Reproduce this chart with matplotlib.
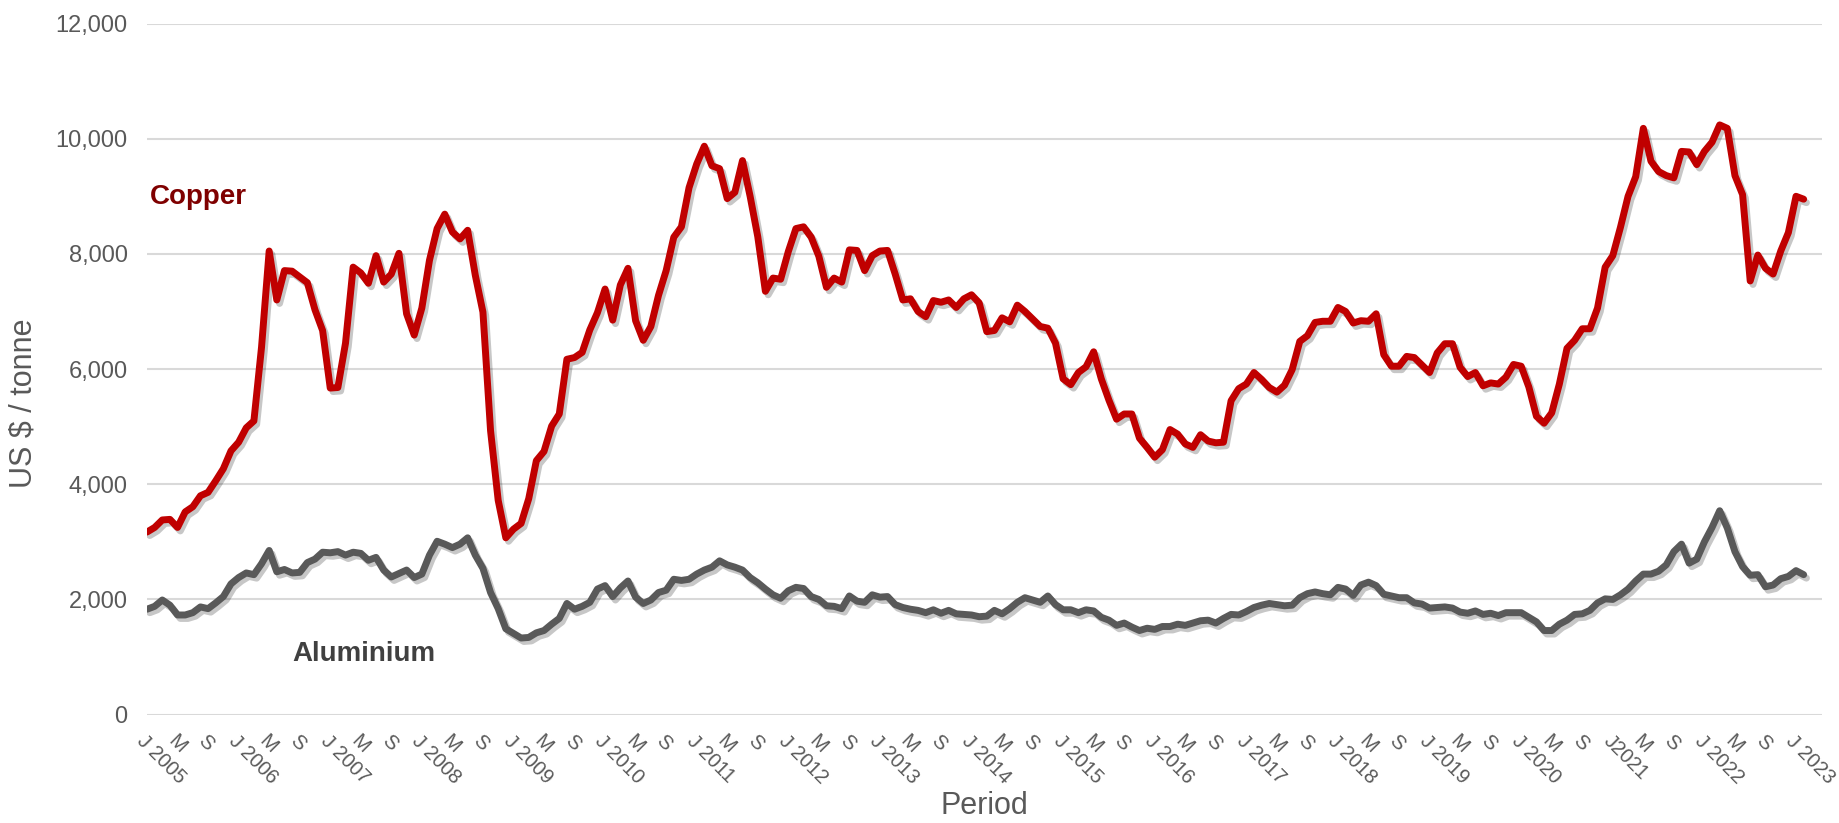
import matplotlib
matplotlib.use("Agg")
import matplotlib.pyplot as plt
import matplotlib.patheffects as pe
import numpy as np

plt.rcParams['font.family'] = ['Liberation Sans', 'DejaVu Sans']

# Monthly prices, Jan 2005 .. Feb 2023 (US$/tonne)
copper = [
    3170, 3250, 3380, 3390, 3250, 3520, 3610, 3800, 3860, 4060, 4270, 4580,   # 2005
    4730, 4980, 5100, 6380, 8050, 7200, 7710, 7700, 7600, 7500, 7030, 6670,   # 2006
    5670, 5680, 6450, 7770, 7670, 7490, 7970, 7510, 7650, 8010, 6960, 6590,   # 2007
    7060, 7890, 8440, 8690, 8380, 8260, 8410, 7630, 6990, 4930, 3720, 3070,   # 2008
    3220, 3320, 3750, 4410, 4570, 5010, 5220, 6170, 6200, 6290, 6680, 6980,   # 2009
    7390, 6850, 7460, 7750, 6840, 6500, 6740, 7280, 7710, 8290, 8470, 9150,   # 2010
    9560, 9870, 9530, 9480, 8960, 9070, 9620, 9000, 8300, 7350, 7580, 7560,   # 2011
    8040, 8440, 8470, 8290, 7960, 7420, 7580, 7510, 8070, 8060, 7710, 7970,   # 2012
    8050, 8060, 7650, 7200, 7220, 7000, 6910, 7190, 7160, 7200, 7070, 7220,   # 2013
    7290, 7150, 6650, 6670, 6890, 6820, 7110, 7000, 6870, 6740, 6710, 6450,   # 2014
    5830, 5730, 5940, 6040, 6300, 5830, 5460, 5130, 5220, 5220, 4800, 4640,   # 2015
    4470, 4600, 4950, 4870, 4700, 4640, 4860, 4750, 4720, 4730, 5450, 5660,   # 2016
    5740, 5940, 5820, 5680, 5600, 5720, 5990, 6480, 6580, 6810, 6830, 6830,   # 2017
    7070, 7000, 6800, 6840, 6830, 6960, 6250, 6050, 6050, 6220, 6200, 6070,   # 2018
    5940, 6280, 6440, 6440, 6030, 5870, 5940, 5710, 5760, 5740, 5860, 6080,   # 2019
    6050, 5690, 5180, 5060, 5240, 5740, 6360, 6500, 6700, 6700, 7060, 7770,   # 2020
    7970, 8460, 9000, 9340, 10180, 9610, 9430, 9360, 9320, 9780, 9770, 9550,  # 2021
    9780, 9940, 10240, 10180, 9360, 9030, 7530, 7980, 7750, 7650, 8050, 8370, # 2022
    9000, 8950,                                                               # 2023
]

aluminium = [
    1830, 1880, 1990, 1900, 1730, 1730, 1770, 1870, 1840, 1940, 2050, 2270,   # 2005
    2380, 2460, 2430, 2620, 2850, 2480, 2520, 2460, 2470, 2640, 2700, 2820,   # 2006
    2810, 2830, 2770, 2820, 2800, 2680, 2730, 2510, 2390, 2450, 2510, 2380,   # 2007
    2440, 2770, 3010, 2960, 2900, 2960, 3070, 2770, 2540, 2120, 1840, 1490,   # 2008
    1410, 1330, 1340, 1420, 1460, 1570, 1670, 1930, 1830, 1880, 1950, 2180,   # 2009
    2240, 2050, 2200, 2320, 2040, 1930, 1990, 2120, 2160, 2350, 2330, 2350,   # 2010
    2440, 2510, 2560, 2670, 2600, 2560, 2510, 2380, 2290, 2180, 2080, 2020,   # 2011
    2150, 2210, 2190, 2050, 2000, 1890, 1880, 1840, 2060, 1970, 1950, 2080,   # 2012
    2040, 2050, 1910, 1860, 1830, 1810, 1770, 1820, 1760, 1810, 1750, 1740,   # 2013
    1730, 1700, 1710, 1810, 1750, 1840, 1950, 2030, 1990, 1950, 2060, 1910,   # 2014
    1820, 1820, 1770, 1820, 1800, 1690, 1640, 1550, 1590, 1520, 1460, 1500,   # 2015
    1480, 1530, 1530, 1570, 1550, 1590, 1630, 1640, 1590, 1670, 1740, 1730,   # 2016
    1790, 1860, 1900, 1930, 1910, 1890, 1900, 2030, 2100, 2130, 2100, 2080,   # 2017
    2210, 2180, 2070, 2250, 2300, 2240, 2090, 2060, 2030, 2030, 1940, 1920,   # 2018
    1850, 1860, 1870, 1850, 1780, 1760, 1800, 1740, 1760, 1720, 1770, 1770,   # 2019
    1770, 1690, 1610, 1460, 1460, 1570, 1640, 1740, 1750, 1810, 1940, 2010,   # 2020
    2000, 2080, 2180, 2320, 2440, 2440, 2490, 2600, 2830, 2960, 2630, 2700,   # 2021
    3000, 3250, 3540, 3240, 2830, 2570, 2420, 2430, 2220, 2250, 2360, 2400,   # 2022
    2500, 2430,                                                               # 2023
]

years = list(range(2005, 2024))
tick_labels = []
for y in years:
    tick_labels += [("J%d" if y == 2021 else "J %d") % y, "M", "S"]
tick_labels = tick_labels[:55]  # up to J 2023

x = np.arange(len(copper))

fig = plt.figure(figsize=(18.4, 8.23), dpi=100)
ax = fig.add_axes([0.0799, 0.1317, 0.9103, 0.8397])

shadow = [pe.SimpleLineShadow(offset=(2, -2.5), shadow_color='black', alpha=0.22), pe.Normal()]
ax.plot(x, copper, color='#C00000', lw=5.0, solid_joinstyle='round', solid_capstyle='round',
        path_effects=shadow, zorder=3)
ax.plot(x, aluminium, color='#595959', lw=5.0, solid_joinstyle='round', solid_capstyle='round',
        path_effects=shadow, zorder=3)

ax.set_xlim(0, 219.4)
ax.set_ylim(0, 12000)
ax.set_yticks(np.arange(0, 12001, 2000))
ax.set_yticklabels([f"{v:,}" for v in range(0, 12001, 2000)])
ax.grid(axis='y', color='#D9D9D9', lw=1.5)
ax.set_axisbelow(True)
for s in ax.spines.values():
    s.set_visible(False)
ax.tick_params(axis='y', length=0, pad=14, labelsize=17, labelcolor='#595959')

ax.set_xticks(np.arange(0, 217, 4))
ax.set_xticklabels(tick_labels)
ax.tick_params(axis='x', length=0, pad=12, labelsize=14.5, labelcolor='#595959')
for lab in ax.get_xticklabels():
    lab.set_rotation(-45)
    lab.set_ha('left')
    lab.set_va('top')
    lab.set_rotation_mode('anchor')

ax.text(0.4, 8980, "Copper", color='#7F0000', fontsize=20, fontweight='bold', va='center', ha='left')
ax.text(19, 1060, "Aluminium", color='#404040', fontsize=20, fontweight='bold', va='center', ha='left')

fig.text(0.0127, 0.51, "US $ / tonne", rotation=90, fontsize=22, color='#595959', ha='center', va='center')
fig.text(0.535, 0.002, "Period", fontsize=22, color='#595959', ha='center', va='bottom')

fig.savefig("out.png", dpi=100, facecolor='white')
